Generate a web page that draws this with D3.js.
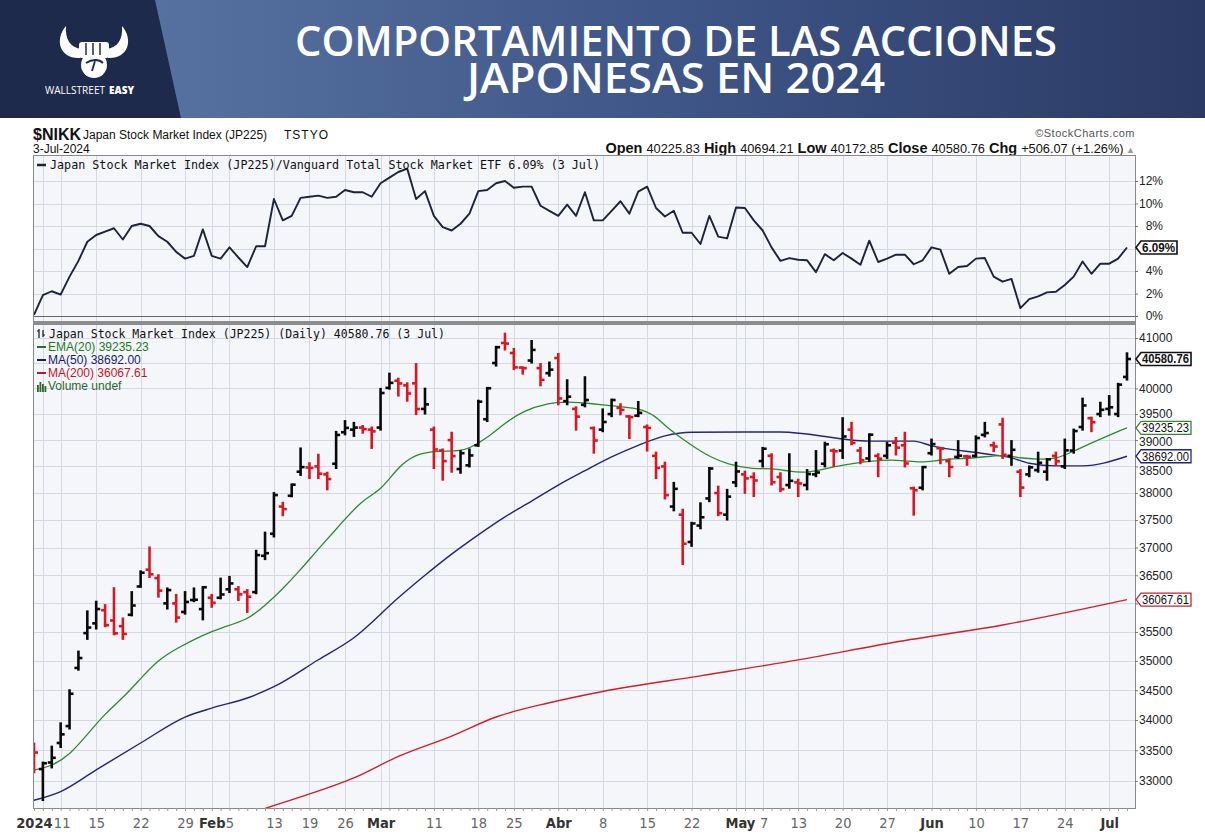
<!DOCTYPE html>
<html>
<head>
<meta charset="utf-8">
<script src="https://cdn.jsdelivr.net/npm/d3@7"></script>
<style>
  body { margin: 0; background: #fff; }
  svg { display: block; }
</style>
</head>
<body>
<svg id="chart" width="1205" height="837"></svg>
<script>
// ---- data ----
const dates = [
  "2023-12-29",
  "2024-01-04","2024-01-05","2024-01-09","2024-01-10","2024-01-11","2024-01-12","2024-01-15","2024-01-16","2024-01-17","2024-01-18",
  "2024-01-19","2024-01-22","2024-01-23","2024-01-24","2024-01-25","2024-01-26","2024-01-29","2024-01-30","2024-01-31",
  "2024-02-01","2024-02-02","2024-02-05","2024-02-06","2024-02-07","2024-02-08","2024-02-09","2024-02-13","2024-02-14","2024-02-15",
  "2024-02-16","2024-02-19","2024-02-20","2024-02-21","2024-02-22","2024-02-26","2024-02-27","2024-02-28","2024-02-29",
  "2024-03-01","2024-03-04","2024-03-05","2024-03-06","2024-03-07","2024-03-08","2024-03-11","2024-03-12","2024-03-13","2024-03-14",
  "2024-03-15","2024-03-18","2024-03-19","2024-03-21","2024-03-22","2024-03-25","2024-03-26","2024-03-27","2024-03-28","2024-03-29",
  "2024-04-01","2024-04-02","2024-04-03","2024-04-04","2024-04-05","2024-04-08","2024-04-09","2024-04-10","2024-04-11","2024-04-12",
  "2024-04-15","2024-04-16","2024-04-17","2024-04-18","2024-04-19","2024-04-22","2024-04-23","2024-04-24","2024-04-25","2024-04-26","2024-04-30",
  "2024-05-01","2024-05-02","2024-05-07","2024-05-08","2024-05-09","2024-05-10","2024-05-13","2024-05-14","2024-05-15","2024-05-16",
  "2024-05-17","2024-05-20","2024-05-21","2024-05-22","2024-05-23","2024-05-24","2024-05-27","2024-05-28","2024-05-29","2024-05-30","2024-05-31",
  "2024-06-03","2024-06-04","2024-06-05","2024-06-06","2024-06-07","2024-06-10","2024-06-11","2024-06-12","2024-06-13","2024-06-14",
  "2024-06-17","2024-06-18","2024-06-19","2024-06-20","2024-06-21","2024-06-24","2024-06-25","2024-06-26","2024-06-27","2024-06-28",
  "2024-07-01","2024-07-02","2024-07-03"
];

const opens = [
  33540,33193,33300,33620,33900,34880,35480,35650,35880,35700,
  35600,35800,36300,36600,36450,36000,36000,35850,36060,35900,
  36100,36100,36250,36250,36200,36200,36850,37250,37750,37950,
  38400,38480,38500,38350,38550,39150,39200,39240,39200,39240,
  40010,40150,40060,40100,39600,39200,38800,39000,38450,38520,
  38900,39400,40500,40900,40700,40410,40550,40400,40300,40600,
  39750,39600,39680,39230,39200,39500,39620,39455,39470,39250,
  38700,38500,37750,37600,37100,37400,37900,38000,37600,38200,
  38350,38300,38600,38700,38300,38150,38200,38150,38350,38550,
  38800,38800,39200,38800,38650,38700,38700,38950,38900,38090,
  38100,38750,38845,38600,38680,38690,38700,39100,38900,39300,
  38700,38400,38350,38430,38400,38700,38500,38800,39250,39420,
  39500,39600,39500,40225.83
];
const highs = [
  33610,33299,33560,33945,34500,35160,35860,36030,35970,36270,
  35735,36200,36570,37000,36500,36265,36150,36200,36265,36290,
  36150,36440,36470,36290,36235,36940,37270,38000,37820,38160,
  38840,38560,38720,38380,39156,39365,39330,39270,39240,39990,
  40290,40190,40100,40480,39995,39240,38820,39140,38790,38820,
  39760,40010,40823,41087,40780,40415,40940,40480,40510,40680,
  40160,39630,40220,39240,39590,39780,39690,39460,39735,39280,
  38760,38570,38190,37690,37450,37810,38470,38120,38060,38570,
  38400,38370,38850,38730,38370,38730,38250,38430,38790,38950,
  38820,39420,39330,38850,39110,38730,38950,39040,39140,38100,
  38490,39010,38850,38630,38980,38700,39070,39330,38950,39410,
  38980,38430,38500,38760,38640,38760,39010,39200,39800,39430,
  39720,39850,40090,40694.21
];
const lows = [
  33140,32693,33220,33555,33860,34850,35380,35560,35600,35460,
  35380,35790,36295,36470,36120,35910,35680,35820,36040,35720,
  35940,36090,36200,36060,35850,36180,36790,37200,37590,37940,
  38340,38280,38280,38070,38470,39110,39080,39140,38850,39200,
  39995,39860,39760,39500,39510,38470,38250,38400,38380,38500,
  38890,39365,40450,40770,40380,40290,40510,40060,40250,39690,
  39690,39200,39650,38760,39170,39460,39495,39040,39460,38800,
  38280,37900,37680,36700,37030,37350,37850,37590,37510,38130,
  38005,37945,38500,38160,38035,38100,37945,38070,38315,38500,
  38510,38660,38920,38560,38600,38315,38660,38725,38500,37600,
  38070,38725,38560,38315,38660,38530,38690,39070,38790,38660,
  38530,37945,38315,38400,38250,38530,38470,38760,39200,39170,
  39460,39490,39460,40172.85
];
const closes = [
  33464,33288,33377,33763,34441,35049,35577,35901,35619,35477,
  35466,35963,36546,36517,36226,36236,35751,36026,36065,36286,
  36011,36158,36354,36160,36119,36863,36897,37963,37703,38157,
  38487,38470,38363,38262,39098,39233,39239,39208,39166,39910,
  40109,40097,39900,39598,39688,38820,38600,38695,38750,38707,
  39740,40003,40815,40888,40414,40398,40762,40168,40369,39803,
  39838,39451,39773,38992,39347,39773,39581,39442,39523,39232,
  38471,37961,38079,37068,37438,37552,38460,37628,37934,38405,
  38274,38236,38835,38202,38073,38229,38179,38356,38385,38920,
  38787,39069,38946,38617,39103,38646,38900,38855,38556,38054,
  38487,38923,38837,38490,38703,38683,39038,39134,38876,38720,
  38814,38102,38482,38570,38633,38596,38804,39173,39667,39341,
  39583,39631,40074,40580.76
];

// $NIKK / VTI relative strength, % (one value per bar)
const ratioPct = [
  0.1,1.85,2.2,1.9,3.5,4.9,6.6,7.2,7.5,7.8,
  6.8,8.0,8.2,8.0,7.1,6.6,5.7,5.1,5.35,7.7,
  5.35,5.1,6.1,5.2,4.35,6.2,6.2,10.4,8.5,8.9,
  10.5,10.6,10.7,10.5,10.6,11.2,11.0,11.0,10.6,11.8,
  12.3,12.8,13.1,10.4,11.1,8.9,7.9,7.6,8.2,9.1,
  11.1,11.2,11.8,12.0,11.4,11.5,11.5,9.8,9.35,8.9,
  9.9,8.9,11.0,8.5,8.5,9.35,10.2,9.1,11.05,11.5,
  9.6,8.85,9.35,7.4,7.4,6.4,8.9,7.05,6.9,9.65,
  9.6,8.5,7.6,6.1,4.9,5.15,5.0,4.95,3.9,5.5,
  4.95,5.6,5.1,4.55,6.7,4.8,5.1,5.45,5.45,4.6,
  4.95,6.1,5.9,3.75,4.35,4.45,5.1,5.15,3.5,3.05,
  3.3,0.7,1.5,1.75,2.1,2.15,2.75,3.5,4.85,3.75,
  4.65,4.65,5.1,6.09
];

// moving averages read at sample bars: [bar number, value]
const ema20 = [
  [0,33177],[2,33240],[4,33420],[6,33760],[8,34110],[10,34370],[12,34700],[14,35020],[16,35210],
  [19,35448],[21,35570],[24,35707],[26,35960],[28,36255],[30,36600],[32,36975],[34,37333],[37,37889],
  [39,38037],[41,38500],[43,38731],[45,38790],[48,38788],[49,38846],[51,39038],[53,39327],[55,39560],
  [58,39720],[60,39740],[63,39700],[65,39660],[68,39620],[70,39462],[71,39269],[73,39019],[75,38788],
  [76,38692],[78,38538],[81,38444],[83,38470],[85,38407],[87,38370],[90,38500],[93,38577],[94,38596],
  [97,38635],[100,38558],[102,38635],[106,38654],[109,38731],[111,38654],[113,38635],[115,38635],
  [117,38788],[120,39019],[123,39235.23]
];
const ma50 = [
  [0,32690],[3,32830],[7,33180],[12,33620],[17,34050],[20,34200],[24,34370],[27,34560],[32,35020],
  [36,35400],[41,36100],[44,36500],[47,36880],[50,37230],[53,37560],[56,37850],[59,38150],[62,38420],
  [65,38680],[68,38900],[71,39080],[74,39150],[84,39155],[94,38980],[99,38980],[101,38890],[107,38740],
  [110,38660],[112,38560],[115,38510],[118,38510],[123,38692.00]
];
const ma200 = [
  [26,32560],[30,32743],[36,33050],[41,33400],[47,33735],[52,34051],[58,34290],[64,34480],[75,34745],
  [86,35017],[97,35326],[109,35622],[123,36067.61]
];

const priceTicks = [33000,33500,34000,34500,35000,35500,36000,36500,37000,37500,38000,38500,39000,39500,40000,40500,41000];
const ratioTicks = [0,2,4,6,8,10,12];

const labelDates = ["2024-01-04","2024-01-09","2024-01-15","2024-01-22","2024-01-29","2024-02-01","2024-02-05","2024-02-13",
  "2024-02-19","2024-02-26","2024-03-01","2024-03-11","2024-03-18","2024-03-25","2024-04-01","2024-04-08","2024-04-15",
  "2024-04-22","2024-05-01","2024-05-07","2024-05-13","2024-05-20","2024-05-27","2024-06-03","2024-06-10","2024-06-17",
  "2024-06-24","2024-07-01"];
const labelTexts = ["2024","11","15","22","29","Feb","5","13","19","26","Mar","11","18","25","Abr","8","15","22",
  "May","7","13","20","27","Jun","10","17","24","Jul"];
const gridDates = labelDates.concat(["2024-03-04","2024-04-30"]);

// ---- drawing ----
const svg = d3.select("#chart");
const sans = "'Liberation Sans', Arial, sans-serif";
const mono = "'DejaVu Sans Mono', monospace";
const narrow = "'Liberation Sans Narrow', 'DejaVu Sans Condensed', 'Roboto', sans-serif";

const PL = 33, PR = 1135;
const topY0 = 155, topY1 = 321;
const prY0 = 324, prY1 = 808;

const x = d3.scalePoint().domain(dates).range([34, 1127]);
const yRatio = d3.scaleLinear().domain([0, 12]).range([316, 181]);
const yPrice = d3.scaleLog().domain([32566, 41242]).range([prY1, 326]);

const defs = svg.append("defs");

// header band
const grad = defs.append("linearGradient").attr("id", "hdr")
  .attr("gradientUnits", "userSpaceOnUse").attr("x1", 160).attr("x2", 1205).attr("y1", 0).attr("y2", 0);
grad.append("stop").attr("offset", 0).attr("stop-color", "#56719f");
grad.append("stop").attr("offset", 0.5).attr("stop-color", "#3e5587");
grad.append("stop").attr("offset", 1).attr("stop-color", "#2b3a64");
svg.append("rect").attr("width", 1205).attr("height", 118).attr("fill", "url(#hdr)");
svg.append("path").attr("d", "M0,0H155L181,118H0Z").attr("fill", "#1e2a4c");

// logo
const logo = svg.append("g").attr("fill", "#fff");
logo.append("path").attr("d", "M80,58 C60,59 54,40 66,26 C65,39 70,48 82,49 Z");
logo.append("path").attr("d", "M108,58 C128,59 134,40 122,26 C123,39 118,48 106,49 Z");
logo.append("rect").attr("x", 79).attr("y", 42).attr("width", 30).attr("height", 16).attr("rx", 3);
logo.append("circle").attr("cx", 94).attr("cy", 65).attr("r", 13);
logo.selectAll("line.f").data([86, 93, 100]).enter().append("line")
  .attr("x1", d => d).attr("x2", d => d).attr("y1", 43).attr("y2", 55)
  .attr("stroke", "#1e2a4c").attr("stroke-width", 1.5);
logo.append("path").attr("d", "M86,63 C92,59 99,59 103,63 M95,61 L92,71")
  .attr("fill", "none").attr("stroke", "#1e2a4c").attr("stroke-width", 1.8);
svg.append("text").attr("x", 45).attr("y", 94).attr("fill", "#fff")
  .style("font-family", "'Open Sans', sans-serif").style("font-size", "11px")
  .attr("textLength", 60).attr("lengthAdjust", "spacingAndGlyphs").text("WALLSTREET");
svg.append("text").attr("x", 109).attr("y", 94).attr("fill", "#fff")
  .style("font-family", "'Open Sans', sans-serif").style("font-size", "11px").style("font-weight", 800)
  .attr("textLength", 25).attr("lengthAdjust", "spacingAndGlyphs").text("EASY");

// title, two lines in one text block
const titleLines = ["COMPORTAMIENTO DE LAS ACCIONES", "JAPONESAS EN 2024"];
const title = svg.append("text")
  .attr("text-anchor", "middle").attr("fill", "#fff")
  .style("font-family", "'Open Sans', sans-serif").style("font-weight", 600).style("font-size", "41px");
title.selectAll("tspan").data(titleLines).enter().append("tspan")
  .attr("x", 676).attr("y", (d, i) => 56 + i * 37)
  .attr("textLength", (d, i) => i === 0 ? 762 : 418)
  .attr("lengthAdjust", "spacingAndGlyphs")
  .text(d => d);

// chart header texts
svg.append("text").attr("x", 33).attr("y", 140).attr("fill", "#111")
  .style("font-family", sans).style("font-weight", "bold").style("font-size", "16px").text("$NIKK");
svg.append("text").attr("x", 83).attr("y", 139).attr("fill", "#111")
  .style("font-family", sans).style("font-size", "12px").text("Japan Stock Market Index (JP225)");
svg.append("text").attr("x", 284).attr("y", 139).attr("fill", "#111")
  .style("font-family", sans).style("font-size", "12px").style("letter-spacing", "1px").text("TSTYO");
svg.append("text").attr("x", 33).attr("y", 153).attr("fill", "#111")
  .style("font-family", sans).style("font-size", "12px").text("3-Jul-2024");
svg.append("text").attr("x", 1135).attr("y", 137).attr("text-anchor", "end").attr("fill", "#555")
  .style("font-family", sans).style("font-size", "11px").style("letter-spacing", "0.5px").text("\u00a9StockCharts.com");

const ohlc = svg.append("text").attr("x", 1135).attr("y", 153).attr("text-anchor", "end").attr("fill", "#111")
  .style("font-family", sans).style("font-size", "12.8px");
[["Open", "40225.83"], ["High", "40694.21"], ["Low", "40172.85"], ["Close", "40580.76"], ["Chg", "+506.07 (+1.26%)"]]
  .forEach(([k, v], i) => {
    ohlc.append("tspan").style("font-weight", "bold").style("font-size", "14.5px").text((i ? "  " : "") + k + " ");
    ohlc.append("tspan").text(v);
  });
ohlc.append("tspan").attr("fill", "#999").style("font-size", "9px").text(" \u25b2");

// panels
svg.append("rect").attr("x", PL).attr("y", topY0).attr("width", PR - PL).attr("height", topY1 - topY0).attr("fill", "#f4f6fa");
svg.append("rect").attr("x", PL).attr("y", prY0).attr("width", PR - PL).attr("height", prY1 - prY0).attr("fill", "#f4f6fa");

defs.append("clipPath").attr("id", "clipTop").append("rect")
  .attr("x", PL).attr("y", topY0).attr("width", PR - PL).attr("height", topY1 - topY0);
defs.append("clipPath").attr("id", "clipPrice").append("rect")
  .attr("x", PL).attr("y", prY0).attr("width", PR - PL).attr("height", prY1 - prY0);

const grid = svg.append("g").attr("stroke", "#d4d9e3").attr("stroke-width", 1);
grid.selectAll("line.rh").data(ratioTicks.slice(1)).enter().append("line")
  .attr("x1", PL).attr("x2", PR).attr("y1", d => Math.round(yRatio(d)) + 0.5).attr("y2", d => Math.round(yRatio(d)) + 0.5);
grid.selectAll("line.ph").data(priceTicks).enter().append("line")
  .attr("x1", PL).attr("x2", PR).attr("y1", d => Math.round(yPrice(d)) + 0.5).attr("y2", d => Math.round(yPrice(d)) + 0.5);
grid.selectAll("line.tv").data(gridDates).enter().append("line")
  .attr("x1", d => Math.round(x(d)) + 0.5).attr("x2", d => Math.round(x(d)) + 0.5).attr("y1", topY0).attr("y2", topY1);
grid.selectAll("line.pv").data(gridDates).enter().append("line")
  .attr("x1", d => Math.round(x(d)) + 0.5).attr("x2", d => Math.round(x(d)) + 0.5).attr("y1", prY0).attr("y2", prY1);

// zero line of the ratio panel
svg.append("line").attr("x1", PL).attr("x2", PR)
  .attr("y1", Math.round(yRatio(0)) + 0.5).attr("y2", Math.round(yRatio(0)) + 0.5)
  .attr("stroke", "#666").attr("stroke-width", 1);

// ratio line
svg.append("path").datum(ratioPct)
  .attr("clip-path", "url(#clipTop)")
  .attr("fill", "none").attr("stroke", "#1d2338").attr("stroke-width", 1.9).attr("stroke-linejoin", "round")
  .attr("d", d3.line().x((d, i) => x(dates[i])).y(d => yRatio(d)));

// moving averages
const pr = svg.append("g").attr("clip-path", "url(#clipPrice)");
const maLine = d3.line().x(d => x(dates[d[0]])).y(d => yPrice(d[1]));
pr.append("path").datum(ma200).attr("fill", "none").attr("stroke", "#d0202a").attr("stroke-width", 1.4)
  .attr("d", maLine.curve(d3.curveMonotoneX));
pr.append("path").datum(ma50).attr("fill", "none").attr("stroke", "#24247e").attr("stroke-width", 1.4)
  .attr("d", maLine.curve(d3.curveMonotoneX));
pr.append("path").datum(ema20).attr("fill", "none").attr("stroke", "#2f8a2f").attr("stroke-width", 1.3)
  .attr("d", maLine.curve(d3.curveBasis));

// OHLC bars
const bars = pr.selectAll("g.bar").data(dates).enter().append("g")
  .attr("class", "bar")
  .attr("stroke", (d, i) => closes[i] < opens[i] ? "#dc1620" : "#0a0a0a")
  .attr("stroke-width", 2.6);
bars.append("line")
  .attr("x1", d => x(d)).attr("x2", d => x(d))
  .attr("y1", (d, i) => yPrice(highs[i]) - 1).attr("y2", (d, i) => yPrice(lows[i]) + 1);
bars.append("line")
  .attr("x1", d => x(d) - 4).attr("x2", d => x(d))
  .attr("y1", (d, i) => yPrice(opens[i])).attr("y2", (d, i) => yPrice(opens[i]));
bars.append("line")
  .attr("x1", d => x(d)).attr("x2", d => x(d) + 4)
  .attr("y1", (d, i) => yPrice(closes[i])).attr("y2", (d, i) => yPrice(closes[i]));

// frames
svg.append("rect").attr("x", PL + 0.5).attr("y", topY0 + 0.5).attr("width", PR - PL).attr("height", topY1 - topY0)
  .attr("fill", "none").attr("stroke", "#8a8a8a");
svg.append("rect").attr("x", PL).attr("y", topY1).attr("width", PR - PL + 1).attr("height", prY0 - topY1).attr("fill", "#8d8d8d");
svg.append("rect").attr("x", PL + 0.5).attr("y", prY0 + 0.5).attr("width", PR - PL).attr("height", prY1 - prY0)
  .attr("fill", "none").attr("stroke", "#8a8a8a");

// last values shown as tags on the right axis
const lastRatio = ratioPct[ratioPct.length - 1];
const tags = [
  { y: yPrice(closes[closes.length - 1]), text: closes[closes.length - 1].toFixed(2), color: "#111", bold: true, w: 56 },
  { y: yPrice(ema20[ema20.length - 1][1]), text: ema20[ema20.length - 1][1].toFixed(2), color: "#2f8a2f", bold: false, w: 56 },
  { y: yPrice(ma50[ma50.length - 1][1]), text: ma50[ma50.length - 1][1].toFixed(2), color: "#24247e", bold: false, w: 56 },
  { y: yPrice(ma200[ma200.length - 1][1]), text: ma200[ma200.length - 1][1].toFixed(2), color: "#d0202a", bold: false, w: 56 }
];
const ratioTag = { y: yRatio(lastRatio), text: lastRatio.toFixed(2) + "%", color: "#111", bold: true, w: 42 };
const hiddenBy = (list, yv) => list.some(t => Math.abs(t.y - yv) < 8);
// labels a little below a tag are pushed down so they stay readable
const nudge = yv => {
  let dy = 0;
  tags.forEach(t => { const g = yv - t.y; if (g >= 8 && g < 14) dy = 14 - g; });
  return dy;
};

// right axes (labels that sit under a tag are hidden, as in the original)
const axR = svg.append("g").attr("transform", `translate(${PR},0)`)
  .call(d3.axisRight(yRatio).tickValues(ratioTicks)
    .tickFormat(d => hiddenBy([ratioTag], yRatio(d)) ? "" : d + "%").tickSize(3));
axR.select(".domain").remove();
axR.selectAll("line").attr("stroke", "#777");
axR.selectAll("text").attr("x", 28).attr("text-anchor", "end")
  .style("font-family", sans).style("font-size", "12px").attr("fill", "#222");

const axP = svg.append("g").attr("transform", `translate(${PR},0)`)
  .call(d3.axisRight(yPrice).tickValues(priceTicks)
    .tickFormat(d => hiddenBy(tags, yPrice(d)) ? "" : d3.format("d")(d)).tickSize(3));
axP.select(".domain").remove();
axP.selectAll("line").attr("stroke", "#777");
axP.selectAll("text").attr("x", 4).attr("y", d => nudge(yPrice(d)))
  .style("font-family", sans).style("font-size", "12px").attr("fill", "#222");

// bottom axis: a small tick per bar, labels at week/month starts
const axB = svg.append("g").attr("transform", `translate(0,${prY1})`)
  .call(d3.axisBottom(x).tickValues(dates).tickFormat("").tickSize(3));
axB.select(".domain").remove();
axB.selectAll("line").attr("stroke", "#999");

const isDay = d => /^\d{1,2}$/.test(labelTexts[labelDates.indexOf(d)]);
const labelShift = { "2024-01-04": -9, "2024-01-09": 1, "2024-05-01": -5, "2024-05-07": 1 };
const axL = svg.append("g").attr("transform", `translate(0,${prY1})`)
  .call(d3.axisBottom(x).tickValues(labelDates).tickFormat((d, i) => labelTexts[i]).tickSize(0).tickPadding(10));
axL.select(".domain").remove();
axL.selectAll("text")
  .style("font-family", narrow).style("font-size", "14.5px")
  .style("font-weight", d => isDay(d) ? 400 : 700)
  .attr("fill", d => isDay(d) ? "#666" : "#333")
  .attr("dx", d => labelShift[d] || 0);

function drawTag(t) {
  const g = svg.append("g");
  g.append("path")
    .attr("d", `M${PR + 1},${t.y} L${PR + 6},${t.y - 6.5} H${PR + t.w} V${t.y + 6.5} H${PR + 6} Z`)
    .attr("fill", "#fff").attr("stroke", t.color).attr("stroke-width", t.bold ? 1.6 : 1.3);
  g.append("text").attr("x", PR + 7).attr("y", t.y + 4.5)
    .attr("textLength", t.w - 9).attr("lengthAdjust", "spacingAndGlyphs")
    .attr("fill", "#111")
    .style("font-family", sans).style("font-size", "12px").style("font-weight", t.bold ? "bold" : "normal")
    .text(t.text);
}
drawTag(ratioTag);
tags.forEach(drawTag);

// legends
svg.append("line").attr("x1", 37).attr("x2", 46).attr("y1", 165).attr("y2", 165).attr("stroke", "#1d2338").attr("stroke-width", 2.5);
svg.append("text").attr("x", 50).attr("y", 169).attr("fill", "#111")
  .attr("textLength", 550).attr("lengthAdjust", "spacingAndGlyphs")
  .style("font-family", mono).style("font-size", "11.5px")
  .text("Japan Stock Market Index (JP225)/Vanguard Total Stock Market ETF 6.09% (3 Jul)");

const icon = svg.append("g").attr("stroke", "#111").attr("stroke-width", 1.2);
icon.append("line").attr("x1", 39).attr("x2", 39).attr("y1", 329).attr("y2", 338);
icon.append("line").attr("x1", 37).attr("x2", 39).attr("y1", 331).attr("y2", 331);
icon.append("line").attr("x1", 43).attr("x2", 43).attr("y1", 330).attr("y2", 337);
icon.append("line").attr("x1", 43).attr("x2", 45).attr("y1", 335).attr("y2", 335);
svg.append("text").attr("x", 49).attr("y", 338).attr("fill", "#111")
  .attr("textLength", 396).attr("lengthAdjust", "spacingAndGlyphs")
  .style("font-family", mono).style("font-size", "11.5px")
  .text("Japan Stock Market Index (JP225) (Daily) 40580.76 (3 Jul)");

const legendRows = [
  { text: "EMA(20) 39235.23", color: "#1e7a1e" },
  { text: "MA(50) 38692.00", color: "#1b1b74" },
  { text: "MA(200) 36067.61", color: "#c8141e" }
];
legendRows.forEach((r, i) => {
  const yy = 351 + i * 13;
  svg.append("line").attr("x1", 37).attr("x2", 46).attr("y1", yy - 4).attr("y2", yy - 4)
    .attr("stroke", r.color).attr("stroke-width", 2);
  svg.append("text").attr("x", 48).attr("y", yy).attr("fill", r.color)
    .style("font-family", sans).style("font-size", "12px").text(r.text);
});
const vi = svg.append("g").attr("fill", "#2c6a2c");
[[37, 385, 7], [39.5, 382, 10], [42, 384, 8], [44.5, 386, 6]].forEach(([bx, by, bh]) =>
  vi.append("rect").attr("x", bx).attr("y", by).attr("width", 1.8).attr("height", bh));
svg.append("text").attr("x", 48).attr("y", 390).attr("fill", "#2c6a2c")
  .style("font-family", sans).style("font-size", "12px").text("Volume undef");
</script>
</body>
</html>
